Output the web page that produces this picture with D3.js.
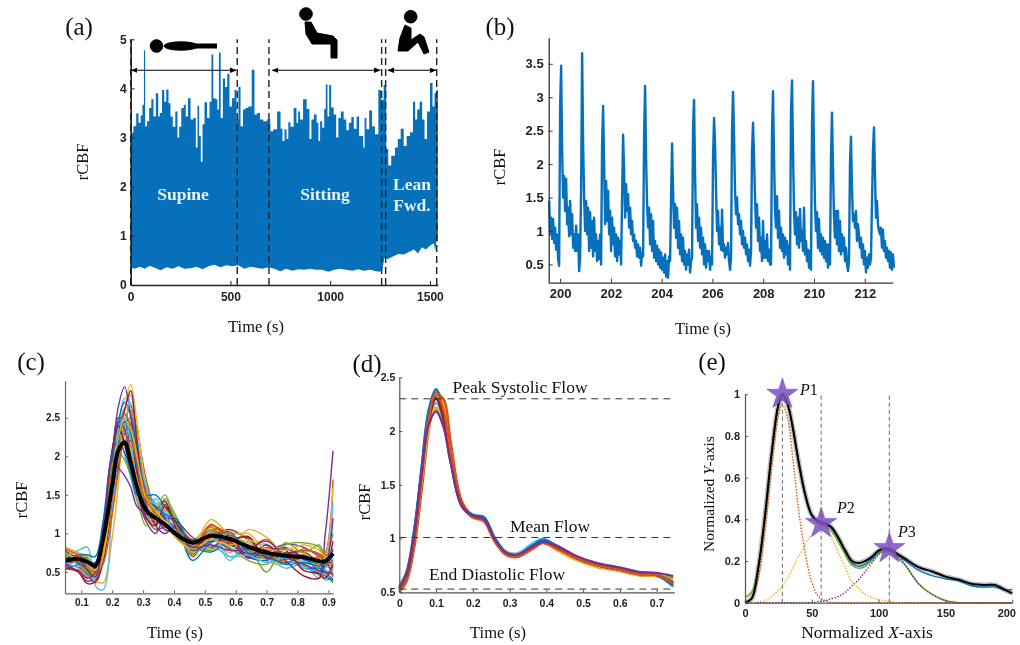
<!DOCTYPE html>
<html>
<head>
<meta charset="utf-8">
<script src="https://cdn.jsdelivr.net/npm/d3@7"></script>
<style>
  body { margin: 0; background: #fff; }
  text { fill: #111; }
</style>
</head>
<body>
<div id="chart"></div>
<script>
// panel a, upper and lower edge of the signal
var aTopTime = [0, 5, 22, 33, 45, 55, 63, 70, 75, 88, 97, 110, 118, 134, 142, 150, 164, 172, 185, 194, 205, 217, 230, 239, 247, 260, 272, 280, 294, 306, 322, 331, 339, 347, 356, 364, 376, 389, 401, 409, 419, 431, 438, 446, 456, 468, 478, 490, 500, 515, 526, 535, 545, 556, 570, 581, 598, 615, 626, 640, 656, 673, 693, 707, 723, 745,
  757, 765, 777, 785, 795, 807, 827, 835, 844, 854, 874, 890, 902, 910, 927, 937, 945, 954, 966, 974, 982, 991, 999, 1011, 1024, 1036, 1046, 1061, 1074, 1088, 1099, 1113, 1124, 1141, 1149, 1161, 1170, 1175, 1188, 1203, 1216, 1233, 1250, 1261, 1275, 1287, 1295, 1317, 1333, 1345, 1362, 1375, 1392, 1408, 1422, 1430, 1442, 1455, 1467, 1479, 1492, 1509, 1517, 1529, 1540]
var aTop = [3.43, 3.1, 3.23, 3.49, 3.3, 3.45, 3.67, 4.77, 3.23, 3.33, 3.6, 3.78, 3.43, 3.9, 3.43, 3.5, 3.97, 3.73, 3.98, 3.7, 3.43, 3.22, 3.53, 3.0, 3.22, 3.6, 3.67, 3.43, 3.8, 3.37, 3.4, 2.8, 3.65, 3.03, 2.51, 3.27, 3.72, 3.4, 3.73, 4.69, 3.8, 3.78, 3.57, 4.73, 3.4, 4.2, 4.03, 4.3, 3.63, 3.8, 3.97, 3.37, 4.03, 3.23, 3.57, 3.6, 3.63, 4.38, 3.47, 3.5, 3.37, 3.33, 3.37, 3.13, 3.17, 3.53,
  3.18, 2.93, 3.17, 2.97, 3.31, 3.22, 3.6, 3.3, 3.53, 3.37, 3.78, 3.58, 2.97, 3.37, 3.47, 3.3, 2.93, 3.33, 3.2, 3.58, 4.08, 3.43, 4.07, 3.61, 3.47, 3.0, 3.4, 3.53, 3.37, 3.15, 3.3, 3.42, 3.18, 3.43, 3.03, 3.03, 2.8, 3.4, 3.17, 3.55, 3.23, 3.07, 3.97, 3.77, 4.07, 2.77, 2.43, 2.63, 2.8, 2.97, 3.18, 2.83, 3.03, 3.11, 3.73, 3.37, 3.57, 3.73, 3.37, 2.97, 3.53, 4.11, 3.63, 3.9, 3.97]
var aBottomTime = [0, 20, 45, 70, 95, 120, 150, 180, 210, 240, 270, 300, 330, 360, 390, 420, 450, 480, 510, 540, 570, 600, 630, 660, 690, 720, 750, 780, 810, 840, 870, 900, 930, 960, 990, 1020, 1050, 1080, 1110, 1140, 1170, 1200, 1230, 1250, 1262, 1272, 1290, 1310, 1340, 1370, 1400, 1420, 1440, 1460, 1480, 1500, 1520, 1526, 1532, 1540]
var aBottom = [.36, .33, .37, .33, .39, .35, .30, .36, .33, .38, .33, .34, .37, .32, .38, .41, .36, .40, .38, .40, .33, .37, .35, .33, .36, .33, .28, .33, .29, .32, .31, .33, .31, .31, .27, .31, .33, .31, .29, .32, .29, .31, .28, .27, .33, .55, .53, .57, .63, .62, .68, .72, .64, .77, .72, .80, .85, .68, .88, .90]
var aMarks = [0, 534, 693, 1258, 1278, 1534]
var aSpans = [[4, 528], [710, 1250], [1290, 1530]]
var aTicksX = [0, 500, 1000, 1500]
var aTicksY = [0, 1, 2, 3, 4, 5]

// panel b, one sample every bStep seconds from bStart
var bStart = 199.567
var bStep = 0.03937
var bSignal = [1.45, .95, 1.2, .88, 1.18, .82, 1.05, .72, .95, .58, .48, 2.85, 3.47,
  2.2, 1.5, 1.82, 1.3, 1.78, 1.1, 1.35, .92, 1.45, .95, 1.25, .75, .95, .7, 1.08, .7, .95, .4, .62, 1.6, 3.66,
  2.3, 1.5, 1.0, 1.45, .95, 1.35, .7, 1.28, .75, 1.15, .62, 1.2, .7, .95, .55, .85, .58, .95, .5, 2.3, 2.87,
  2.0, 1.1, 1.75, 1.15, 1.6, .95, 1.3, .7, 1.2, .8, 1.05, .62, .95, .55, .9, .65, .85, .5, 1.5, 2.44,
  1.9, 1.2, 1.7, 1.3, 1.55, 1.05, 1.35, .95, 1.15, .85, .95, .75, .85, .62, .8, .6, .75, .48, .68, .62, 2.4, 3.17,
  2.1, 1.4, 1.05, 1.35, .8, 1.25, .7, 1.15, .6, .85, .55, .78, .5, .72, .45, .68, .42, .6, .38, .65, .32, .55, .3, .62, .55, 1.5, 2.31,
  1.6, 1.05, 1.4, .9, 1.35, .75, 1.15, .65, .95, .55, .9, .5, .7, .42, .65, .5, .72, .38, .55, .6, 2.55, 2.96,
  1.85, 1.05, 1.4, .85, 1.2, .75, 1.05, .65, .9, .5, .8, .45, .7, .55, .7, .42, .62, .5, 2.1, 2.69,
  2.3, 1.6, 1.0, 1.3, .8, 1.05, .72, 1.32, .7, .8, .6, .75, .65, .82, .55, .42, .6, 2.5, 3.08,
  2.4, 1.6, 1.25, 1.5, 1.1, 1.25, .95, 1.15, .8, 1.0, .75, .9, .65, .8, .55, .72, .48, .7, 2.2, 2.62,
  2.1, 1.5, 1.05, 1.4, .85, 1.2, .7, .9, .55, 1.15, .6, .85, .6, .95, .55, .72, .5, .5, 2.5, 3.09,
  2.1, 1.3, 1.05, 1.52, .9, 1.3, .75, 1.05, .7, .95, .6, .9, .65, .85, .5, .78, .42, 2.8, 3.25,
  2.2, 1.3, .95, 1.28, .8, 1.2, .75, 1.33, .85, 1.0, .7, 1.35, .65, .85, .55, .72, .45, .7, .42, 2.6, 3.24,
  2.2, 1.4, 1.0, 1.28, .75, 1.18, .7, .95, .65, .9, .6, .85, .55, .8, .45, .8, .5, 2.1, 2.77,
  1.95, 1.2, .9, 1.3, .8, 1.3, .7, 1.15, .65, .95, .7, .9, .55, .75, .5, .4, .55, 2.0, 2.41,
  1.65, 1.15, 1.25, 1.05, 1.3, .85, 1.1, .95, .75, .9, .6, .8, .5, .7, .38, .6, .45, .65, .5, .6, 1.4, 2.2, 2.55,
  1.85, 1.2, 1.45, 1.1, 1.0, .95, 1.05, .75, 1.02, .7, .85, .6, .75, .55, .7, .45, .68, .42, .65, .45]
var bTicksX = [200, 202, 204, 206, 208, 210, 212]
var bTicksY = [.5, 1, 1.5, 2, 2.5, 3, 3.5]

// panel c, single beats and their mean
var cTime = [.05, .09, .12, .145, .17, .2, .22, .24, .26, .28, .31, .34, .37, .41, .46, .52, .58, .64, .7, .76, .82, .87, .89, .915]
var cMean = [.65, .67, .63, .58, .92, 1.62, 2.08, 2.18, 1.92, 1.6, 1.3, 1.2, 1.12, .98, .88, .97, .93, .83, .75, .71, .69, .64, .64, .74]
var cBeats = [
  [.75, .64, .48, .4, .7, 1.6, 2.2, 2.62, 2.6, 2.1, 1.5, 1.22, 1.1, 1.05, .9, 1.08, .95, .78, .66, .72, .58, .46, .4, .42],
  [.66, .72, .66, .62, 1.0, 1.85, 2.4, 2.75, 2.68, 2.2, 1.62, 1.38, 1.28, 1.1, .78, .85, .7, .78, .74, .7, .64, .56, .52, .5],
  [.58, .56, .46, .36, .62, 1.4, 1.9, 2.3, 2.42, 2.15, 1.58, 1.2, 1.38, 1.06, .74, .95, 1.05, .92, .72, .66, .72, .64, .6, .66],
  [.64, .7, .58, .55, 1.02, 2.0, 2.5, 2.45, 2.05, 1.6, 1.28, 1.34, 1.22, 1.15, .84, .76, .88, .7, .7, .82, .66, .6, .56, .8],
  [.7, .6, .44, .46, .92, 1.78, 2.15, 2.3, 2.12, 1.75, 1.35, 1.15, 1.3, 1.12, .7, 1.02, .92, .68, .82, .72, .78, .74, .66, .58],
  [.76, .74, .7, .58, .86, 1.6, 2.0, 2.18, 2.1, 1.8, 1.42, 1.28, 1.4, 1.18, .92, 1.1, .78, .88, .64, .6, .7, .66, .6, .52],
  [.54, .5, .38, .44, .88, 1.9, 2.32, 2.2, 1.9, 1.62, 1.22, 1.05, 1.08, 1.0, .8, .98, .86, .74, .76, .86, .82, .7, .65, .44],
  [.68, .66, .64, .52, .74, 1.45, 1.98, 2.38, 2.5, 2.05, 1.48, 1.32, 1.18, 1.08, .86, .8, 1.0, .94, .7, .68, .58, .52, .48, .36],
  [.6, .64, .56, .5, .96, 1.98, 2.28, 2.02, 1.72, 1.42, 1.18, 1.28, 1.32, 1.02, .76, .92, .8, .82, .86, .64, .62, .58, .55, .68],
  [.73, .69, .54, .47, .8, 1.75, 2.35, 2.55, 2.28, 1.78, 1.38, 1.12, 1.24, .96, .84, 1.05, .9, .96, .68, .74, .76, .62, .58, .9],
  [.72, .7, .68, .6, .95, 1.9, 2.45, 2.7, 2.55, 2.1, 1.55, 1.35, 1.2, 1.05, .92, .98, .85, .8, .72, .62, .68, .5, .45, .38],
  [.6, .62, .5, .42, .72, 1.5, 1.95, 2.4, 2.65, 2.35, 1.7, 1.3, 1.15, 1.0, .82, 1.05, 1.0, .78, .7, .75, .68, .7, .75, 1.7],
  [.82, .75, .7, .4, .36, .95, 1.65, 2.6, 2.93, 2.45, 1.6, 1.2, 1.3, 1.1, .85, 1.18, 1.0, 1.0, .78, .8, .75, .62, .7, 1.6],
  [.78, .62, .55, .55, 1.05, 2.0, 2.65, 2.9, 2.5, 1.85, 1.35, 1.1, 1.0, 1.1, .9, .95, .8, .72, .8, .7, .6, .5, 1.0, 2.07],
  [.68, .6, .5, .48, .85, 1.7, 2.1, 2.35, 2.25, 1.9, 1.3, 1.05, 1.45, 1.2, .85, .78, .95, .85, .5, .88, .75, .85, .7, 1.0],
  [.7, .78, .82, .32, .27, 1.3, 2.0, 2.35, 2.8, 2.25, 1.6, 1.4, 1.35, 1.15, .75, 1.0, .65, .9, .72, .55, .6, .42, .55, 1.4],
  [.6, .5, .35, .38, .8, 1.8, 2.3, 2.6, 2.85, 2.2, 1.45, 1.3, 1.42, 1.05, .8, 1.0, .9, .7, .85, .65, .45, .42, .6, .55],
  [.55, .6, .65, .55, .9, 1.7, 2.2, 2.45, 2.3, 1.9, 1.5, 1.5, 1.35, 1.12, .65, .88, .95, .7, .65, .75, .55, .55, .5, .4],
  [.65, .7, .6, .5, .9, 1.85, 2.3, 2.55, 2.4, 1.95, 1.4, 1.15, 1.2, .95, .78, 1.12, .88, .85, .7, .65, .8, .72, .7, .45],
  [.7, .68, .62, .45, .7, 1.55, 2.1, 2.25, 2.05, 1.7, 1.25, 1.4, 1.1, 1.02, .75, .95, .75, 1.05, .95, .72, .62, .6, .68, .5],
  [.58, .68, .6, .62, 1.1, 2.05, 2.45, 2.35, 1.95, 1.55, 1.15, 1.0, 1.2, 1.15, .95, .82, .98, .68, .78, .8, .7, .65, .62, 1.2],
  [.72, .65, .55, .5, .95, 1.9, 2.05, 1.95, 1.75, 1.45, 1.1, 1.25, 1.5, 1.08, .72, 1.05, .82, .65, .6, .85, .88, .82, .6, .75],
  [.62, .55, .45, .42, .82, 1.65, 2.35, 2.5, 2.2, 1.65, 1.3, 1.45, 1.25, .98, .85, 1.0, .7, .72, .62, .68, .55, .5, .4, .55],
  [.55, .52, .42, .5, 1.0, 2.1, 2.4, 2.15, 1.8, 1.6, 1.2, 1.1, 1.35, 1.12, .88, .9, .92, .95, .68, .78, .52, .48, .42, .6],
  [.68, .72, .72, .7, 1.15, 2.05, 2.2, 2.05, 1.8, 1.5, 1.42, 1.35, 1.25, 1.18, .78, .9, 1.02, .75, .7, .6, .62, .58, .62, .62],
  [.8, .72, .65, .48, .6, 1.25, 1.8, 2.2, 2.2, 1.95, 1.5, 1.25, 1.08, 1.02, .82, 1.1, .98, .82, .92, .7, .68, .68, .72, .62],
  [.74, .66, .6, .52, .78, 1.7, 2.25, 2.48, 2.35, 2.0, 1.45, 1.3, 1.15, .92, .8, .92, .85, .92, .8, .78, .85, .78, .7, .7],
  [.62, .66, .52, .44, .9, 1.95, 1.85, 1.75, 1.6, 1.35, 1.25, 1.2, 1.05, 1.0, .82, .85, .78, .8, .9, .7, .6, .52, .5, .48]
]
var cTicksX = [.1, .2, .3, .4, .5, .6, .7, .8, .9]
var cTicksY = [.5, 1, 1.5, 2, 2.5]

// panel d, ensemble averages
var dTime = [0, .02, .04, .06, .08, .1, .12, .14, .17, .2, .23, .26, .29, .32, .36, .39, .43, .48, .54, .6, .65, .7, .745]
var dBeats = [
  [.5, .62, .92, 1.45, 2.05, 2.37, 2.28, 1.85, 1.34, 1.2, 1.18, .98, .86, .83, .91, .97, .9, .81, .74, .7, .66, .65, .58],
  [.5, .6, .9, 1.42, 2.0, 2.33, 2.3, 1.9, 1.35, 1.21, 1.17, .99, .86, .83, .9, .96, .9, .81, .74, .7, .66, .65, .6],
  [.56, .7, 1.08, 1.6, 2.05, 2.2, 2.05, 1.7, 1.3, 1.2, 1.18, 1.0, .88, .86, .93, .97, .92, .83, .77, .73, .69, .66, .63],
  [.53, .66, 1.02, 1.58, 2.1, 2.26, 2.12, 1.74, 1.31, 1.21, 1.2, 1.01, .88, .86, .95, 1.0, .93, .83, .76, .71, .67, .66, .55],
  [.51, .63, .97, 1.5, 2.02, 2.22, 2.12, 1.78, 1.32, 1.19, 1.16, .97, .85, .83, .9, .96, .89, .8, .73, .7, .66, .65, .6],
  [.55, .68, 1.05, 1.62, 2.15, 2.31, 2.1, 1.72, 1.31, 1.22, 1.2, 1.0, .86, .84, .93, .98, .92, .82, .75, .71, .68, .66, .57],
  [.54, .68, 1.05, 1.65, 2.2, 2.39, 2.15, 1.72, 1.3, 1.22, 1.19, 1.0, .87, .84, .92, .99, .93, .83, .75, .71, .68, .66, .56],
  [.52, .64, .98, 1.55, 2.1, 2.3, 2.13, 1.76, 1.32, 1.2, 1.17, .98, .85, .83, .9, .96, .91, .82, .75, .71, .67, .66, .59],
  [.53, .65, 1.0, 1.57, 2.12, 2.36, 2.2, 1.77, 1.31, 1.2, 1.16, .97, .85, .83, .9, .96, .9, .82, .75, .71, .67, .66, .58],
  [.54, .67, 1.03, 1.6, 2.06, 2.18, 2.04, 1.7, 1.3, 1.21, 1.18, .99, .87, .85, .92, .97, .93, .84, .77, .73, .69, .68, .65]
]
var dColors = ['#EDB120', '#D95319', '#77AC30', '#4DBEEE', '#EDB120', '#0072BD', '#0072BD', '#A2142F', '#D95319', '#7E2F8E']
var dLevels = [2.3, 1.01, .53]
var dTicksX = [0, .1, .2, .3, .4, .5, .6, .7]
var dTicksY = [.5, 1, 1.5, 2, 2.5]

// panel e, normalised beat and its three components
var eX = [0, 5, 10, 15, 20, 25, 28, 32, 36, 40, 45, 50, 55, 60, 65, 70, 75, 80, 85, 90, 95, 100, 105, 110, 115, 120, 130, 140, 150, 160, 170, 180, 187, 195, 200]
var eBlack = [0, .02, .17, .42, .72, .95, 1, .95, .83, .68, .52, .42, .39, .38, .36, .31, .25, .2, .19, .2, .22, .25, .26, .25, .23, .21, .17, .15, .125, .11, .09, .085, .085, .06, .045]
var eBlue = [0, .02, .17, .42, .72, .95, 1, .95, .83, .68, .52, .42, .39, .38, .355, .3, .24, .19, .175, .185, .21, .24, .25, .245, .225, .2, .155, .13, .115, .105, .08, .075, .075, .06, .065]
var eGreen = [.025, .05, .17, .41, .72, .94, .98, .95, .84, .68, .52, .42, .38, .37, .34, .29, .23, .18, .165, .175, .2, .235, .25, .24, .21, .18, .09, .04, .01, 0, 0, 0, 0, 0, 0]
var eFirst = [0, .02, .12, .35, .65, .9, .95, .88, .68, .45, .24, .1, .03, .01, 0, 0, 0, 0, 0, 0, 0, 0, 0, 0, 0, 0, 0, 0, 0, 0, 0, 0, 0, 0, 0]
var eSecond = [0, 0, .005, .01, .03, .06, .08, .12, .17, .22, .28, .33, .365, .36, .31, .24, .17, .1, .07, .04, .025, .015, .01, .005, 0, 0, 0, 0, 0, 0, 0, 0, 0, 0, 0]
var eThird = [0, 0, 0, 0, 0, 0, 0, 0, 0, 0, 0, 0, .005, .01, .02, .03, .05, .08, .11, .15, .19, .23, .25, .255, .22, .18, .09, .04, .01, 0, 0, 0, 0, 0, 0]
var ePeaks = [[28, 1], [57, .38], [108, .26]]
var eTicksX = [0, 50, 100, 150, 200]
var eTicksY = [0, .2, .4, .6, .8, 1]

var matlab = ['#0072BD', '#D95319', '#EDB120', '#7E2F8E', '#77AC30', '#4DBEEE', '#A2142F']
var serif = '"Liberation Serif", serif'
var sans = '"Liberation Sans", sans-serif'

var svg = d3.select('#chart')
  .append('svg')
  .attr('width', 1020)
  .attr('height', 645)
  .style('display', 'block')
  .style('filter', 'blur(0.35px)')

// builds the scales and axes of one panel, pixel boxes
function panel (o) {
  var x = d3.scaleLinear().domain(o.xd).range(o.xr)
  var y = d3.scaleLinear().domain(o.yd).range(o.yr)
  var g = svg.append('g')
  var ax = svg.append('g')
  ax.append('g')
    .attr('transform', 'translate(0,' + o.yr[0] + ')')
    .call(d3.axisBottom(x).tickValues(o.xt).tickSize(-o.tick).tickSizeOuter(0).tickPadding(o.xpad).tickFormat(d3.format('')))
  ax.append('g')
    .attr('transform', 'translate(' + o.xr[0] + ',0)')
    .call(d3.axisLeft(y).tickValues(o.yt).tickSize(-o.tick).tickSizeOuter(0).tickPadding(o.ypad).tickFormat(d3.format('')))
  ax.selectAll('.domain, .tick line').attr('stroke', o.axis).attr('stroke-width', o.aw)
  ax.selectAll('.tick line').attr('stroke-width', 1)
  ax.selectAll('text')
    .attr('font-family', sans)
    .attr('font-weight', 'bold')
    .attr('font-size', o.fs)
    .style('fill', '#222')
  return { x: x, y: y, g: g, ax: ax }
}

function label (txt, px, py, size, rot) {
  var t = svg.append('text')
    .attr('font-family', serif)
    .attr('font-size', size)
    .attr('text-anchor', 'middle')
    .text(txt)
  if (rot) t.attr('transform', 'translate(' + px + ',' + py + ') rotate(-90)')
  else t.attr('x', px).attr('y', py)
  return t
}

// ---- panel a
var a = panel({ xd: [0, 1540], xr: [130.7, 437.9], yd: [0, 5], yr: [285, 39.3], xt: aTicksX, yt: aTicksY, tick: 4, xpad: 7, ypad: 4, axis: '#222', aw: 1.6, fs: 12 })
a.g.append('path')
  .datum(aTop)
  .attr('fill', '#0670BB')
  .attr('d', d3.area()
    .x(function (d, i) { return a.x(aTopTime[i]) })
    .y0(a.y(1.1))
    .y1(function (d) { return a.y(d) })
    .curve(d3.curveStep))
a.g.append('path')
  .datum(aBottom)
  .attr('fill', '#0670BB')
  .attr('d', d3.area()
    .x(function (d, i) { return a.x(aBottomTime[i]) })
    .y0(a.y(1.2))
    .y1(function (d) { return a.y(d) }))
a.g.selectAll('.mark')
  .data(aMarks)
  .enter()
  .append('line')
  .attr('x1', function (d) { return a.x(d) })
  .attr('x2', function (d) { return a.x(d) })
  .attr('y1', a.y(0))
  .attr('y2', a.y(5))
  .attr('stroke', '#222')
  .attr('stroke-width', 1.4)
  .attr('stroke-dasharray', '7 4')

svg.append('defs').append('marker')
  .attr('id', 'head')
  .attr('viewBox', '0 0 10 10')
  .attr('refX', 9)
  .attr('refY', 5)
  .attr('markerWidth', 5.5)
  .attr('markerHeight', 5.5)
  .attr('orient', 'auto-start-reverse')
  .append('path')
  .attr('d', 'M0,1 L10,5 L0,9 Z')
  .attr('fill', '#000')
svg.selectAll('.span')
  .data(aSpans)
  .enter()
  .append('line')
  .attr('x1', function (d) { return a.x(d[0]) })
  .attr('x2', function (d) { return a.x(d[1]) })
  .attr('y1', a.y(4.37))
  .attr('y2', a.y(4.37))
  .attr('stroke', '#000')
  .attr('stroke-width', 1.2)
  .attr('marker-start', 'url(#head)')
  .attr('marker-end', 'url(#head)')

var inside = svg.append('g')
  .attr('font-family', serif)
  .attr('font-weight', 'bold')
  .attr('font-size', 17.5)
  .attr('text-anchor', 'middle')
inside.append('text').attr('x', 183).attr('y', 200).text('Supine').style('fill', '#e8f2fa')
inside.append('text').attr('x', 325).attr('y', 200).text('Sitting').style('fill', '#e8f2fa')
inside.append('text').attr('x', 412).attr('y', 190).text('Lean').style('fill', '#e8f2fa')
inside.append('text').attr('x', 412).attr('y', 211).text('Fwd.').style('fill', '#e8f2fa')

// pictograms of the three postures
var icons = svg.append('g').attr('fill', '#000').attr('stroke', '#000').attr('stroke-linejoin', 'round')
icons.append('circle').attr('cx', 156.5).attr('cy', 46).attr('r', 6.3)
icons.append('ellipse').attr('cx', 181).attr('cy', 46).attr('rx', 17).attr('ry', 4.2)
icons.append('rect').attr('x', 195).attr('y', 43.5).attr('width', 22).attr('height', 5).attr('stroke', 'none')
icons.append('circle').attr('cx', 306).attr('cy', 14).attr('r', 6.3)
icons.append('path').attr('d', 'M305,22 L311,22 L317,33 L333,36 L337,40 L337,58 L331,58 L331,44 L312,44 L306,34 Z')
icons.append('circle').attr('cx', 410.7).attr('cy', 16.7).attr('r', 6.3)
icons.append('path').attr('d', 'M405,25 L411,28 L411,40 L420,34 L424,37 L429,52 L424,54 L418,42 L408,51 L398,51 L400,38 Z')

label('rCBF', 88, 162, 16.5, true)
label('Time (s)', 256, 332, 16.5)
label('(a)', 79, 35, 25)

// ---- panel b
var b = panel({ xd: [199.55, 213.1], xr: [548.7, 892.7], yd: [.227, 3.89], yr: [282.7, 37.7], xt: bTicksX, yt: bTicksY, tick: 4, xpad: 6, ypad: 5, axis: '#333', aw: 1.3, fs: 13 })
b.g.append('path')
  .datum(bSignal)
  .attr('fill', 'none')
  .attr('stroke', '#0670BB')
  .attr('stroke-width', 2.4)
  .attr('stroke-linejoin', 'round')
  .attr('d', d3.line()
    .x(function (d, i) { return b.x(bStart + i * bStep) })
    .y(function (d) { return b.y(d) }))
label('rCBF', 505, 167, 16.5, true)
label('Time (s)', 703, 334, 16.5)
label('(b)', 500, 35, 25)

// ---- panel c
var c = panel({ xd: [.047, .916], xr: [65, 333.3], yd: [.224, 2.98], yr: [593.3, 380.7], xt: cTicksX, yt: cTicksY, tick: 3, xpad: 6, ypad: 5, axis: '#666', aw: 1.2, fs: 10 })
var cLine = d3.line()
  .x(function (d, i) { return c.x(cTime[i]) })
  .y(function (d) { return c.y(d) })
  .curve(d3.curveCatmullRom)
c.g.selectAll('.beat')
  .data(cBeats)
  .enter()
  .append('path')
  .attr('fill', 'none')
  .attr('stroke', function (d, i) { return matlab[(i + 4) % 7] })
  .attr('stroke-width', 1.4)
  .attr('d', cLine)
c.g.append('path')
  .datum(cMean)
  .attr('fill', 'none')
  .attr('stroke', '#000')
  .attr('stroke-width', 4)
  .attr('stroke-linejoin', 'round')
  .attr('d', cLine)
label('rCBF', 27, 500, 16.5, true)
label('Time (s)', 175, 638, 16.5)
label('(c)', 31, 370, 25)

// ---- panel d
var p4 = panel({ xd: [0, .748], xr: [399.3, 674.3], yd: [.5, 2.5], yr: [592.3, 377.3], xt: dTicksX, yt: dTicksY, tick: 3, xpad: 7, ypad: 4, axis: '#555', aw: 1.2, fs: 10.5 })
var dLine = d3.line()
  .x(function (d, i) { return p4.x(dTime[i]) })
  .y(function (d) { return p4.y(d) })
  .curve(d3.curveCatmullRom)
p4.g.selectAll('.beat')
  .data(dBeats)
  .enter()
  .append('path')
  .attr('fill', 'none')
  .attr('stroke', function (d, i) { return dColors[i] })
  .attr('stroke-width', 2.3)
  .attr('d', dLine)
p4.g.selectAll('.level')
  .data(dLevels)
  .enter()
  .append('line')
  .attr('x1', p4.x(0))
  .attr('x2', p4.x(.748))
  .attr('y1', function (d) { return p4.y(d) })
  .attr('y2', function (d) { return p4.y(d) })
  .attr('stroke', '#333')
  .attr('stroke-width', 1)
  .attr('stroke-dasharray', '7 5')
label('Peak Systolic Flow', 520, 393, 17.5)
label('Mean Flow', 550, 532, 17.5)
label('End Diastolic Flow', 497, 580, 17.5)
label('rCBF', 370, 502, 16.5, true)
label('Time (s)', 498, 638, 16.5)
label('(d)', 367, 372, 25)

// ---- panel e
var e = panel({ xd: [0, 200], xr: [745, 1012.3], yd: [0, 1], yr: [602.7, 394.3], xt: eTicksX, yt: eTicksY, tick: 3, xpad: 7, ypad: 5, axis: '#555', aw: 1.2, fs: 11 })
// the last tick label sits left of its tick so it stays on the page
e.ax.selectAll('text').filter(function (d) { return d === 200 }).attr('dx', -6)
var eLine = d3.line()
  .x(function (d, i) { return e.x(eX[i]) })
  .y(function (d) { return e.y(d) })
  .curve(d3.curveCatmullRom)
function eDraw (data, color, width, dash, op) {
  e.g.append('path')
    .datum(data)
    .attr('fill', 'none')
    .attr('stroke', color)
    .attr('stroke-width', width)
    .attr('stroke-dasharray', dash)
    .attr('stroke-opacity', op)
    .attr('d', eLine)
}
eDraw(eBlack, '#888', 5, null, .55)
eDraw(eBlue, '#0072BD', 1.4, null, 1)
eDraw(eGreen, '#77AC30', 1.6, null, 1)
eDraw(eThird, '#7E2F8E', 1.4, '1.5 1.5', 1)
eDraw(eSecond, '#EDB120', 1.4, '1.5 1.5', 1)
eDraw(eFirst, '#D95319', 1.4, '1.5 1.5', 1)
eDraw(eBlack, '#000', 2, null, 1)
e.g.selectAll('.peak')
  .data(ePeaks)
  .enter()
  .append('line')
  .attr('x1', function (d) { return e.x(d[0]) })
  .attr('x2', function (d) { return e.x(d[0]) })
  .attr('y1', e.y(0))
  .attr('y2', e.y(1))
  .attr('stroke', '#777')
  .attr('stroke-width', 1.1)
  .attr('stroke-dasharray', '4 3')
e.g.selectAll('.star')
  .data(ePeaks)
  .enter()
  .append('path')
  .attr('d', d3.symbol().type(d3.symbolStar).size(300))
  .attr('transform', function (d) { return 'translate(' + e.x(d[0]) + ',' + e.y(d[1]) + ')' })
  .attr('fill', '#7a4fc0')
  .attr('fill-opacity', .85)
  .attr('stroke', '#6a3fb0')
  .attr('stroke-width', .5)

function peakLabel (n, px, py) {
  var t = svg.append('text').attr('x', px).attr('y', py).attr('font-family', serif).attr('font-size', 16)
  t.append('tspan').attr('font-style', 'italic').text('P')
  t.append('tspan').text(n)
}
peakLabel('1', 800, 395)
peakLabel('2', 837, 513)
peakLabel('3', 898, 537)

var ex = svg.append('text').attr('x', 867).attr('y', 638).attr('font-family', serif).attr('font-size', 17.5).attr('text-anchor', 'middle')
ex.append('tspan').text('Normalized ')
ex.append('tspan').attr('font-style', 'italic').text('X')
ex.append('tspan').text('-axis')
var ey = svg.append('text').attr('transform', 'translate(714,494) rotate(-90)').attr('font-family', serif).attr('font-size', 15.5).attr('text-anchor', 'middle')
ey.append('tspan').text('Normalized ')
ey.append('tspan').attr('font-style', 'italic').text('Y')
ey.append('tspan').text('-axis')
label('(e)', 712, 370, 25)
</script>
</body>
</html>
